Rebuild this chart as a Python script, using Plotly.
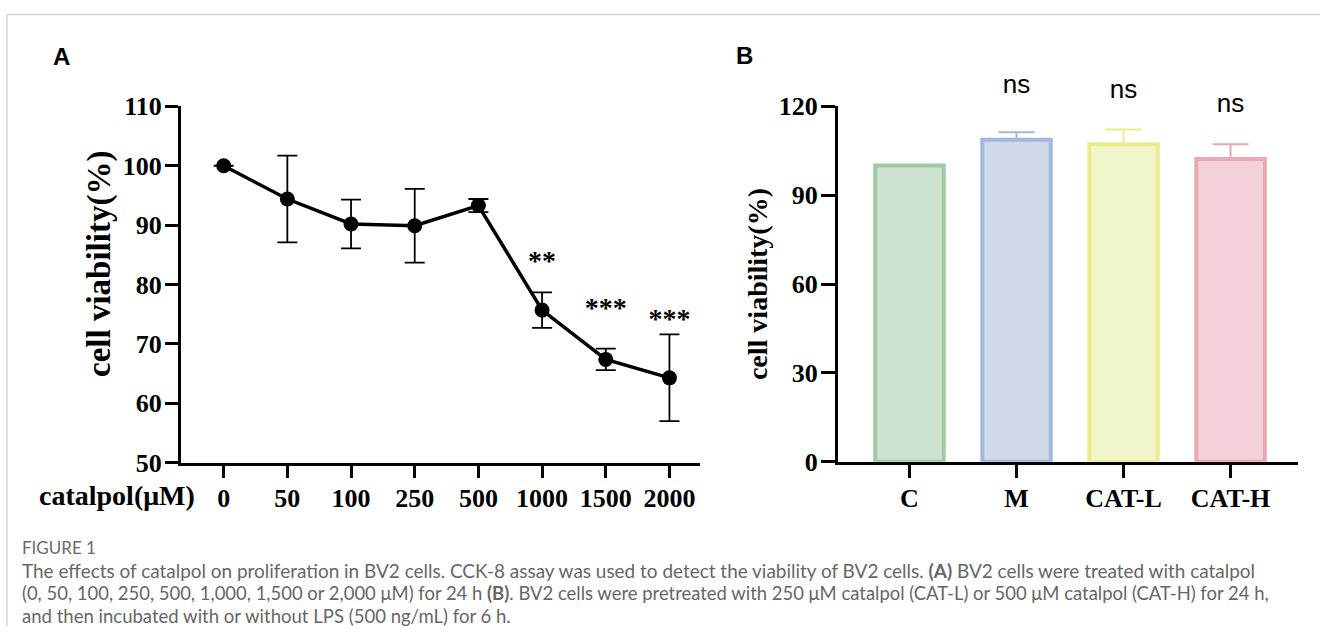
import plotly.graph_objects as go

W, H = 1320, 641
# the photographed page shows the figure as y_pic = 15 + 0.951 * y_fig
PIC_OFF, PIC_SCALE = 15.0, 0.951

# ---------------- data ----------------
conc_labels = ["0", "50", "100", "250", "500", "1000", "1500", "2000"]
viability_a = [100.0, 94.4, 90.2, 89.9, 93.3, 75.7, 67.4, 64.3]
err_a = [None, 7.3, 4.1, 6.2, 1.1, 3.0, 1.8, 7.3]
sig_labels_a = ["", "", "", "", "", "**", "***", "***"]
sig_y_a = [None, None, None, None, None, 83.7, 75.8, 73.8]

groups_b = ["C", "M", "CAT-L", "CAT-H"]
viability_b = [100.0, 108.7, 107.2, 102.2]
err_b = [0.0, 2.6, 5.0, 5.0]
sig_labels_b = ["", "ns", "ns", "ns"]
sig_y_b = [None, 126.6, 124.9, 120.2]
fill_b = ["#cde3cf", "#d1d9e8", "#f2f4c9", "#f3d3d9"]
edge_b = ["#9fcaa3", "#a0b9dc", "#ecec8e", "#eba8b1"]

SERIF = "Liberation Serif"


def fy(t):
    """picture pixel row -> figure pixel row"""
    return max(0.0, (t - PIC_OFF) / PIC_SCALE)


def px(x, y):
    """picture pixel -> paper coords"""
    return x / W, 1 - fy(y) / H


fig = go.Figure()

# ---------------- panel A ----------------
fig.add_trace(go.Scatter(
    x=conc_labels, y=viability_a, mode="lines+markers",
    line=dict(color="black", width=3.5),
    marker=dict(color="black", size=15),
    error_y=dict(type="data", array=err_a, visible=True, color="black",
                 thickness=1.8, width=10),
    xaxis="x", yaxis="y", showlegend=False, cliponaxis=False,
))

sa_x = [c for c, t in zip(conc_labels, sig_labels_a) if t]
sa_y = [v for v, t in zip(sig_y_a, sig_labels_a) if t]
sa_t = [t for t in sig_labels_a if t]
fig.add_trace(go.Scatter(
    x=sa_x, y=sa_y, text=sa_t, mode="text", textposition="middle center",
    textfont=dict(family=SERIF, size=28, color="black", weight="bold"),
    xaxis="x", yaxis="y", showlegend=False, cliponaxis=False, hoverinfo="skip",
))

# ---------------- panel B ----------------
for g, v, e, fc, ec in zip(groups_b, viability_b, err_b, fill_b, edge_b):
    fig.add_trace(go.Bar(
        x=[g], y=[v], width=0.64,
        marker=dict(color=fc, line=dict(color=ec, width=4)),
        error_y=dict(type="data", symmetric=False, array=[e], arrayminus=[0],
                     visible=e > 0, color=ec, thickness=2, width=18),
        xaxis="x2", yaxis="y2", showlegend=False,
    ))

# "ns" labels live on an invisible axis with the same scale as y2 but taller
sb_x = [g for g, t in zip(groups_b, sig_labels_b) if t]
sb_y = [v for v, t in zip(sig_y_b, sig_labels_b) if t]
sb_t = [t for t in sig_labels_b if t]
fig.add_trace(go.Scatter(
    x=sb_x, y=sb_y, text=sb_t, mode="text", textposition="middle center",
    textfont=dict(family="Liberation Sans", size=26, color="black"),
    xaxis="x2", yaxis="y3", showlegend=False, cliponaxis=False, hoverinfo="skip",
))

ax_common = dict(showline=True, linecolor="black", linewidth=3, ticks="outside",
                 tickcolor="black", tickwidth=3, showgrid=False, zeroline=False,
                 tickfont=dict(family=SERIF, size=26, color="black", weight="bold"))

ya_bot, ya_top = px(0, 462)[1], px(0, 107)[1]
yb_bot, yb_top = px(0, 461)[1], px(0, 107)[1]
y3_top_val = 120 * fy(461) / (fy(461) - fy(107))

fig.update_layout(
    width=W, height=H, margin=dict(l=0, r=0, t=0, b=0),
    paper_bgcolor="white", plot_bgcolor="rgba(0,0,0,0)", barmode="overlay",
    xaxis=dict(domain=[181 / W, 700 / W], type="category", range=[-0.67, 7.48],
               anchor="y", ticklen=12, ticklabelstandoff=-2, **ax_common),
    yaxis=dict(domain=[ya_bot, ya_top], range=[50, 110],
               tickvals=[50, 60, 70, 80, 90, 100, 110], anchor="x", ticklen=13,
               ticklabelstandoff=-2, **ax_common),
    xaxis2=dict(domain=[838 / W, 1298 / W], type="category", range=[-0.668, 3.63],
                anchor="y2", ticklen=13, ticklabelstandoff=-2, **ax_common),
    yaxis2=dict(domain=[yb_bot, yb_top], range=[0, 120],
                tickvals=[0, 30, 60, 90, 120], anchor="x2", ticklen=14,
                ticklabelstandoff=-2, **ax_common),
    yaxis3=dict(domain=[yb_bot, 1], range=[0, y3_top_val], anchor="x2",
                visible=False, showgrid=False, zeroline=False),
)

# panel letters
for lab, (x, y) in [("A", (61, 57)), ("B", (744, 56))]:
    xx, yy = px(x, y)
    fig.add_annotation(x=xx, y=yy, xref="paper", yref="paper", text=f"<b>{lab}</b>",
                       showarrow=False, xanchor="center", yanchor="middle",
                       font=dict(family="Liberation Sans", size=24, color="black"))

# axis titles
for (x, y), sz in [((100, 264), 33), ((757, 284), 28)]:
    xx, yy = px(x, y)
    fig.add_annotation(x=xx, y=yy, xref="paper", yref="paper",
                       text="<b>cell viability(%)</b>", textangle=-90, showarrow=False,
                       xanchor="center", yanchor="middle",
                       font=dict(family=SERIF, size=sz, color="black"))

xx, yy = px(197, 495)
fig.add_annotation(x=xx, y=yy, xref="paper", yref="paper", text="<b>catalpol(μM)</b>",
                   showarrow=False, xanchor="right", yanchor="middle",
                   font=dict(family=SERIF, size=28, color="black"))

# caption
xx, yy = px(20, 546)
fig.add_annotation(x=xx, y=yy, xref="paper", yref="paper", text="FIGURE 1",
                   showarrow=False, xanchor="left", yanchor="middle",
                   font=dict(family="Lato", size=17, color="#6a6a6a"))
cap_lines = [
    "The effects of catalpol on proliferation in BV2 cells. CCK-8 assay was used to detect the viability of BV2 cells. <b>(A)</b> BV2 cells were treated with catalpol",
    "(0, 50, 100, 250, 500, 1,000, 1,500 or 2,000 μM) for 24 h <b>(B)</b>. BV2 cells were pretreated with 250 μM catalpol (CAT-L) or 500 μM catalpol (CAT-H) for 24 h,",
    "and then incubated with or without LPS (500 ng/mL) for 6 h.",
]
cap_sizes = [18.95, 18.45, 18.55]
for line, y, sz in zip(cap_lines, [569, 592, 615], cap_sizes):
    xx, yy = px(20, y)
    fig.add_annotation(x=xx, y=yy, xref="paper", yref="paper", text=line,
                       showarrow=False, xanchor="left", yanchor="middle",
                       font=dict(family="Lato", size=sz, color="#666666"))

# frame lines
top = px(0, 11)[1] - 0.001
fig.add_shape(type="line", xref="paper", yref="paper", x0=7 / W, x1=1, y0=top,
              y1=top, line=dict(color="#d6d6d6", width=1.5))
fig.add_shape(type="line", xref="paper", yref="paper", x0=7 / W, x1=7 / W, y0=0,
              y1=top, line=dict(color="#d6d6d6", width=1.5))

fig.write_html("out.html")
